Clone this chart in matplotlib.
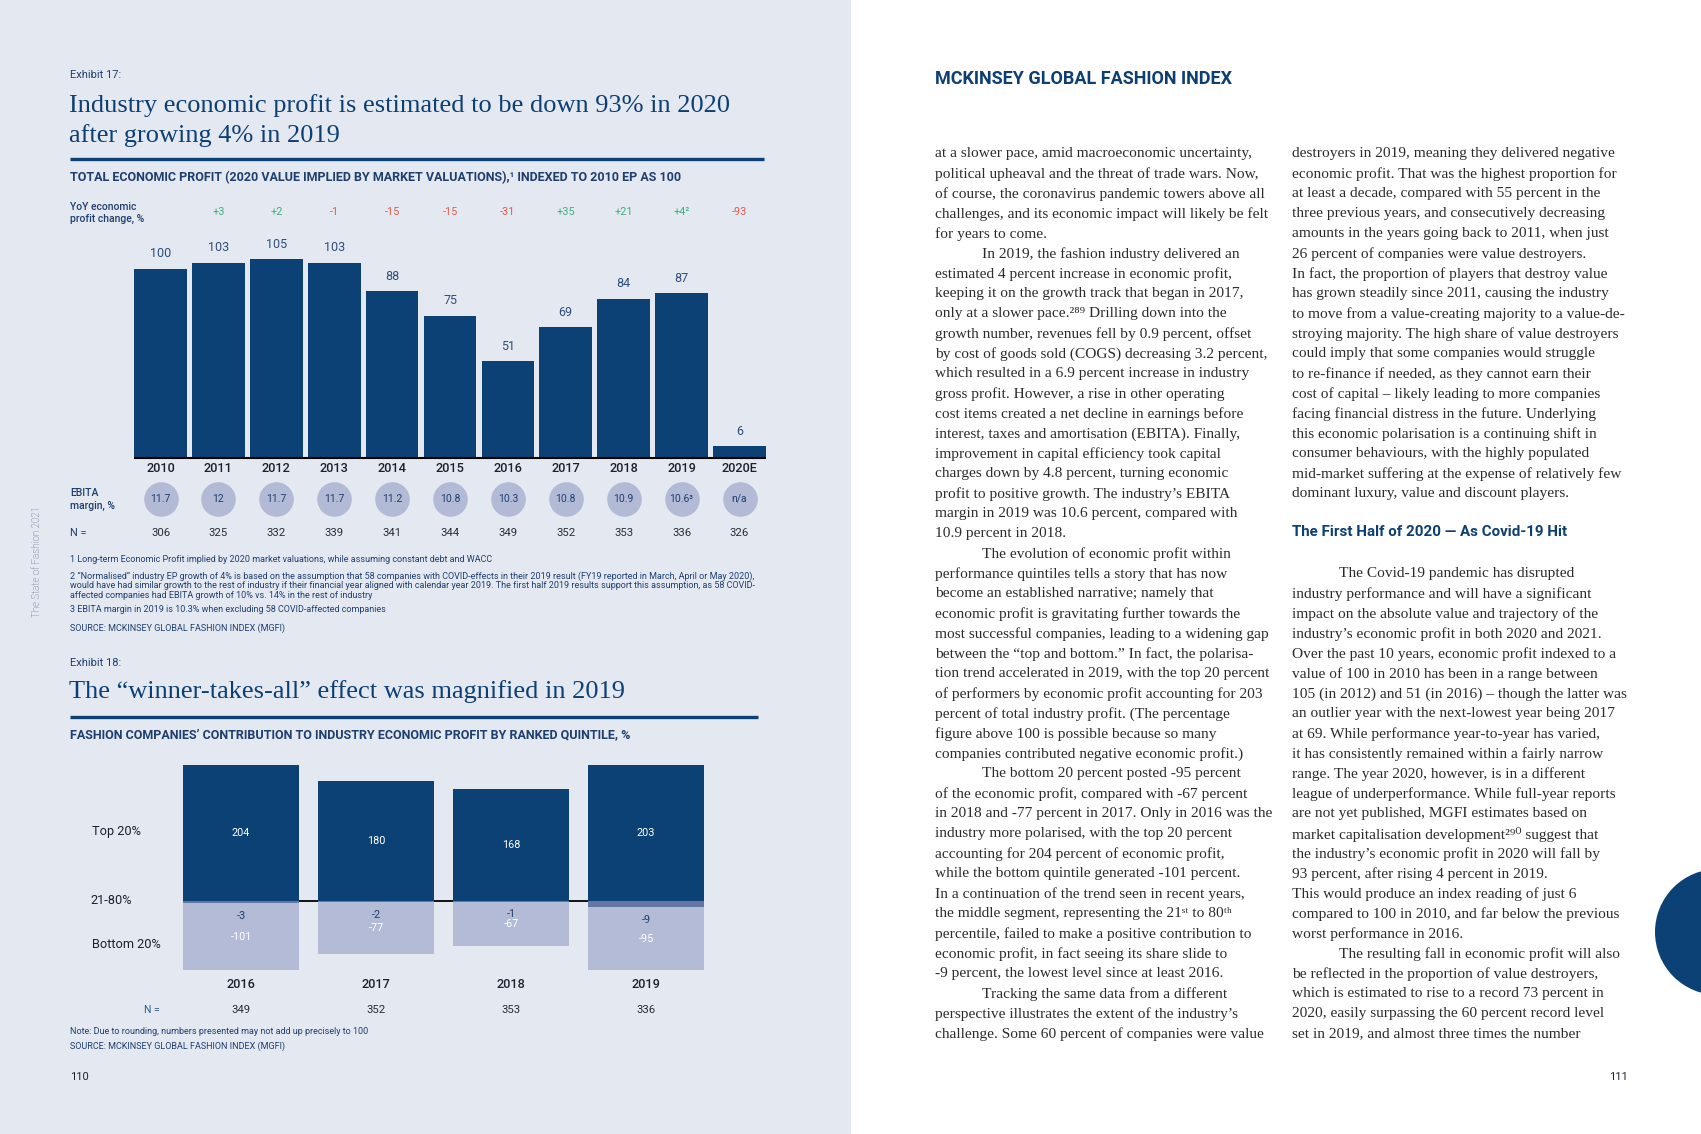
import matplotlib
matplotlib.use("Agg")
import matplotlib.pyplot as plt
import matplotlib.transforms as mtransforms
from matplotlib.patches import Rectangle, Circle

# ---------------- data ----------------
years1 = ['2010', '2011', '2012', '2013', '2014', '2015', '2016', '2017', '2018', '2019', '2020E']
ep_index = [100, 103, 105, 103, 88, 75, 51, 69, 84, 87, 6]
yoy_change = ['+3', '+2', '-1', '-15', '-15', '-31', '+35', '+21', '+4²', '-93']  # 2011..2020E
ebita_margin = ['11.7', '12', '11.7', '11.7', '11.2', '10.8', '10.3', '10.8', '10.9', '10.6³', 'n/a']
n_companies1 = [306, 325, 332, 339, 341, 344, 349, 352, 353, 336, 326]

years2 = ['2016', '2017', '2018', '2019']
top20 = [204, 180, 168, 203]
mid60 = [-3, -2, -1, -9]
bottom20 = [-101, -77, -67, -95]
n_companies2 = [349, 352, 353, 336]

col1_lines = [
    "at a slower pace, amid macroeconomic uncertainty,",
    "political upheaval and the threat of trade wars. Now,",
    "of course, the coronavirus pandemic towers above all",
    "challenges, and its economic impact will likely be felt",
    "for years to come.",
    "\tIn 2019, the fashion industry delivered an",
    "estimated 4 percent increase in economic profit,",
    "keeping it on the growth track that began in 2017,",
    "only at a slower pace.²⁸⁹ Drilling down into the",
    "growth number, revenues fell by 0.9 percent, offset",
    "by cost of goods sold (COGS) decreasing 3.2 percent,",
    "which resulted in a 6.9 percent increase in industry",
    "gross profit. However, a rise in other operating",
    "cost items created a net decline in earnings before",
    "interest, taxes and amortisation (EBITA). Finally,",
    "improvement in capital efficiency took capital",
    "charges down by 4.8 percent, turning economic",
    "profit to positive growth. The industry’s EBITA",
    "margin in 2019 was 10.6 percent, compared with",
    "10.9 percent in 2018.",
    "\tThe evolution of economic profit within",
    "performance quintiles tells a story that has now",
    "become an established narrative; namely that",
    "economic profit is gravitating further towards the",
    "most successful companies, leading to a widening gap",
    "between the “top and bottom.” In fact, the polarisa-",
    "tion trend accelerated in 2019, with the top 20 percent",
    "of performers by economic profit accounting for 203",
    "percent of total industry profit. (The percentage",
    "figure above 100 is possible because so many",
    "companies contributed negative economic profit.)",
    "\tThe bottom 20 percent posted -95 percent",
    "of the economic profit, compared with -67 percent",
    "in 2018 and -77 percent in 2017. Only in 2016 was the",
    "industry more polarised, with the top 20 percent",
    "accounting for 204 percent of economic profit,",
    "while the bottom quintile generated -101 percent.",
    "In a continuation of the trend seen in recent years,",
    "the middle segment, representing the 21ˢᵗ to 80ᵗʰ",
    "percentile, failed to make a positive contribution to",
    "economic profit, in fact seeing its share slide to",
    "-9 percent, the lowest level since at least 2016.",
    "\tTracking the same data from a different",
    "perspective illustrates the extent of the industry’s",
    "challenge. Some 60 percent of companies were value",
]

col2_lines_a = [
    "destroyers in 2019, meaning they delivered negative",
    "economic profit. That was the highest proportion for",
    "at least a decade, compared with 55 percent in the",
    "three previous years, and consecutively decreasing",
    "amounts in the years going back to 2011, when just",
    "26 percent of companies were value destroyers.",
    "In fact, the proportion of players that destroy value",
    "has grown steadily since 2011, causing the industry",
    "to move from a value-creating majority to a value-de-",
    "stroying majority. The high share of value destroyers",
    "could imply that some companies would struggle",
    "to re-finance if needed, as they cannot earn their",
    "cost of capital – likely leading to more companies",
    "facing financial distress in the future. Underlying",
    "this economic polarisation is a continuing shift in",
    "consumer behaviours, with the highly populated",
    "mid-market suffering at the expense of relatively few",
    "dominant luxury, value and discount players.",
]
col2_lines_b = [
    "\tThe Covid-19 pandemic has disrupted",
    "industry performance and will have a significant",
    "impact on the absolute value and trajectory of the",
    "industry’s economic profit in both 2020 and 2021.",
    "Over the past 10 years, economic profit indexed to a",
    "value of 100 in 2010 has been in a range between",
    "105 (in 2012) and 51 (in 2016) – though the latter was",
    "an outlier year with the next-lowest year being 2017",
    "at 69. While performance year-to-year has varied,",
    "it has consistently remained within a fairly narrow",
    "range. The year 2020, however, is in a different",
    "league of underperformance. While full-year reports",
    "are not yet published, MGFI estimates based on",
    "market capitalisation development²⁹⁰ suggest that",
    "the industry’s economic profit in 2020 will fall by",
    "93 percent, after rising 4 percent in 2019.",
    "This would produce an index reading of just 6",
    "compared to 100 in 2010, and far below the previous",
    "worst performance in 2016.",
    "\tThe resulting fall in economic profit will also",
    "be reflected in the proportion of value destroyers,",
    "which is estimated to rise to a record 73 percent in",
    "2020, easily surpassing the 60 percent record level",
    "set in 2019, and almost three times the number",
]

# ---------------- style ----------------
W, H = 1701, 1134
BG_LEFT = '#e4e8f1'
NAVY = '#0b4174'
NAVY_TXT = '#1f3f6e'
LABEL_BLUE = '#2f4d7a'
GREEN = '#3fae85'
RED = '#e05a4b'
CIRCLE = '#b3bad5'
MID = '#6676a3'
LIGHT = '#b3bbd6'
DARK = '#1c2130'
SANS = ['Roboto', 'DejaVu Sans']
SERIF = ['Liberation Serif', 'DejaVu Serif']

plt.rcParams['font.family'] = SANS

fig = plt.figure(figsize=(W / 100, H / 100), dpi=100)
fig.patch.set_facecolor('white')

page = fig.add_axes([0, 0, 1, 1])
page.set_xlim(0, W)
page.set_ylim(H, 0)
page.axis('off')
page.set_zorder(0)
page.add_patch(Rectangle((0, 0), 851, H, color=BG_LEFT, zorder=0, lw=0))
page.add_patch(Circle((1718, 932), 63, color=NAVY, zorder=1, lw=0))


def T(x, y, s, **kw):
    kw.setdefault('va', 'center')
    kw.setdefault('ha', 'left')
    return page.text(x, y, s, **kw)


def px_axes(l, t, r, b):
    ax = fig.add_axes([l / W, 1 - b / H, (r - l) / W, (b - t) / H])
    ax.patch.set_alpha(0)
    for sp in ax.spines.values():
        sp.set_visible(False)
    ax.set_xticks([])
    ax.set_yticks([])
    ax.set_zorder(2)
    return ax


# ---------------- Exhibit 17 ----------------
T(70, 75, 'Exhibit 17:', fontsize=8, color=NAVY_TXT)
T(69, 106, 'Industry economic profit is estimated to be down 93% in 2020', family=SERIF,
  fontsize=19, color='#0d3f73')
T(69, 136, 'after growing 4% in 2019', family=SERIF, fontsize=19, color='#0d3f73')
page.plot([70, 764], [159, 159], color=NAVY, lw=2.4, solid_capstyle='butt')
T(70, 178, 'TOTAL ECONOMIC PROFIT (2020 VALUE IMPLIED BY MARKET VALUATIONS),¹ INDEXED TO 2010 EP AS 100',
  fontsize=9, fontweight='bold', color=NAVY_TXT)

ax1 = px_axes(131.55, 230, 768.45, 457.5)
x1 = list(range(len(years1)))
bw1 = 0.91
ax1.bar(x1, ep_index, width=bw1, color=NAVY, zorder=2)
ax1.set_xlim(-0.5, len(years1) - 0.5)
ax1.set_ylim(0, (457.5 - 230) / 1.89)
ax1.plot([x1[0] - bw1 / 2, x1[-1] + bw1 / 2], [0, 0], color='black', lw=1.5, zorder=3,
         clip_on=False, solid_capstyle='butt')
for xi, v in zip(x1, ep_index):
    ax1.annotate(str(v), (xi, v), xytext=(0, 6), textcoords='offset points', ha='center',
                 va='bottom', fontsize=9, color=LABEL_BLUE, annotation_clip=False)

b1 = mtransforms.blended_transform_factory(ax1.transData, page.transData)
T(70, 207, 'YoY economic', fontsize=7.5, color=NAVY_TXT, fontweight='medium')
T(70, 219, 'profit change, %', fontsize=7.5, color=NAVY_TXT, fontweight='medium')
for xi, s in zip(x1[1:], yoy_change):
    page.text(xi, 212, s, transform=b1, ha='center', va='center', fontsize=7.8,
              color=GREEN if s.startswith('+') else RED)
for xi, s in zip(x1, years1):
    page.text(xi, 469, s, transform=b1, ha='center', va='center', fontsize=9.2,
              color=DARK, fontweight='medium')
page.scatter(x1, [499] * len(x1), s=620, color=CIRCLE, transform=b1, zorder=3, lw=0)
for xi, s in zip(x1, ebita_margin):
    page.text(xi, 499, s, transform=b1, ha='center', va='center', fontsize=7.5,
              color=NAVY_TXT, zorder=4)
T(70, 493, 'EBITA', fontsize=7.5, color=NAVY_TXT, fontweight='medium')
T(70, 506, 'margin, %', fontsize=7.5, color=NAVY_TXT, fontweight='medium')
T(70, 533, 'N =', fontsize=7.8, color=NAVY_TXT)
for xi, n in zip(x1, n_companies1):
    page.text(xi, 533, str(n), transform=b1, ha='center', va='center', fontsize=8.2,
              color='#2a2d38')

fn_kw = dict(fontsize=6.5, color=NAVY_TXT)
T(70, 560, '1 Long-term Economic Profit implied by 2020 market valuations, while assuming constant debt and WACC', **fn_kw)
T(70, 576, '2 “Normalised” industry EP growth of 4% is based on the assumption that 58 companies with COVID-effects in their 2019 result (FY19 reported in March, April or May 2020),', **fn_kw)
T(70, 586, 'would have had similar growth to the rest of industry if their financial year aligned with calendar year 2019. The first half 2019 results support this assumption, as 58 COVID-', **fn_kw)
T(70, 596, 'affected companies had EBITA growth of 10% vs. 14% in the rest of industry', **fn_kw)
T(70, 609, '3 EBITA margin in 2019 is 10.3% when excluding 58 COVID-affected companies', **fn_kw)
T(70, 628, 'SOURCE: MCKINSEY GLOBAL FASHION INDEX (MGFI)', **fn_kw)

T(37, 561, 'The State of Fashion 2021', rotation=90, ha='center', fontsize=7,
  color='#4f5c7a', fontweight='light')

# ---------------- Exhibit 18 ----------------
T(70, 663, 'Exhibit 18:', fontsize=8, color=NAVY_TXT)
T(69, 692, 'The “winner-takes-all” effect was magnified in 2019', family=SERIF,
  fontsize=19, color='#0d3f73')
page.plot([70, 758], [717, 717], color=NAVY, lw=2.4, solid_capstyle='butt')
T(70, 735, 'FASHION COMPANIES’ CONTRIBUTION TO INDUSTRY ECONOMIC PROFIT BY RANKED QUINTILE, %',
  fontsize=9, fontweight='bold', color=NAVY_TXT)

ax2 = px_axes(173.5, 740, 713.5, 980)
x2 = list(range(len(years2)))
bw2 = 0.86
ax2.set_xlim(-0.5, len(years2) - 0.5)
ax2.set_ylim(-(980 - 901) / 0.668, (901 - 740) / 0.668)
ax2.plot([x2[0] - bw2 / 2, x2[-1] + bw2 / 2], [0, 0], color='black', lw=1.3, zorder=1,
         solid_capstyle='butt')
ax2.bar(x2, top20, width=bw2, color=NAVY, zorder=2)
ax2.bar(x2, mid60, width=bw2, color=MID, zorder=2)
ax2.bar(x2, bottom20, width=bw2, bottom=mid60, color=LIGHT, zorder=2)
for xi, t, m, b in zip(x2, top20, mid60, bottom20):
    ax2.text(xi, t / 2, str(t), ha='center', va='center', fontsize=7.8, color='white')
    ax2.annotate(str(m), (xi, m), xytext=(0, -9), textcoords='offset points', ha='center',
                 va='center', fontsize=7.8, color=NAVY_TXT)
    ax2.text(xi, m + b / 2, str(b), ha='center', va='center', fontsize=7.8, color='white')

b2 = mtransforms.blended_transform_factory(ax2.transData, page.transData)
for xi, s in zip(x2, years2):
    page.text(xi, 984, s, transform=b2, ha='center', va='center', fontsize=9.2,
              color=DARK, fontweight='medium')
for xi, n in zip(x2, n_companies2):
    page.text(xi, 1010, str(n), transform=b2, ha='center', va='center', fontsize=8.2,
              color='#2a2d38')
T(160, 1010, 'N =', ha='right', fontsize=7.5, color='#2b5a95')
T(92, 831, 'Top 20%', fontsize=9.2, color=DARK)
T(90, 901, '21-80%', fontsize=9.2, color=DARK)
T(92, 944, 'Bottom 20%', fontsize=9.2, color=DARK)

T(70, 1032, 'Note: Due to rounding, numbers presented may not add up precisely to 100', **fn_kw)
T(70, 1046, 'SOURCE: MCKINSEY GLOBAL FASHION INDEX (MGFI)', **fn_kw)
T(70, 1077, '110', fontsize=8, color=DARK)

# ---------------- right page ----------------
T(935, 79, 'MCKINSEY GLOBAL FASHION INDEX', fontsize=13, fontweight='bold', color='#0d3f73')

BODY = dict(family=SERIF, fontsize=11.1, color='#2b2b2b')


def body(lines, x, y0):
    for i, s in enumerate(lines):
        xi = x
        if s.startswith('\t'):
            s = s[1:]
            xi = x + 47
        T(xi, y0 + 20 * i, s, **BODY)


body(col1_lines, 935, 154)
body(col2_lines_a, 1292, 154)
T(1292, 532, 'The First Half of 2020 — As Covid-19 Hit', fontsize=10.9, fontweight='bold',
  color='#0d3f73')
body(col2_lines_b, 1292, 574)
T(1628, 1077, '111', ha='right', fontsize=8, color=DARK)

fig.savefig('out.png', dpi=100, facecolor=fig.get_facecolor())
